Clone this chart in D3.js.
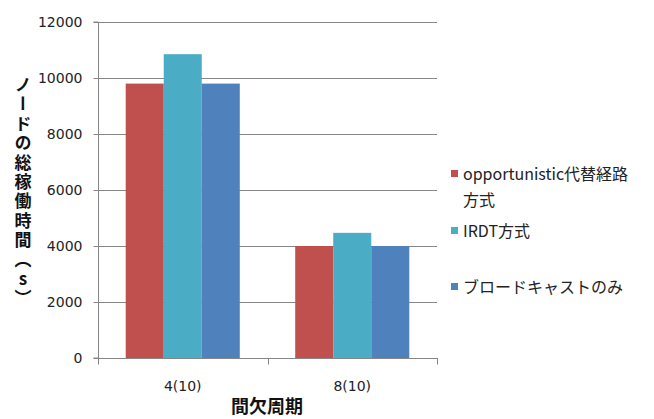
<!DOCTYPE html>
<html>
<head>
<meta charset="utf-8">
<script src="https://cdn.jsdelivr.net/npm/d3@7"></script>
<style>
  html, body { margin: 0; padding: 0; background: #fff; }
  svg { display: block; }
  text { font-family: "Noto Sans CJK JP", sans-serif; }
</style>
</head>
<body>
<svg id="chart" width="654" height="419"></svg>
<script>
// Categories (間欠周期) and series values, in seconds
const categories = ["4(10)", "8(10)"];
const seriesNames = ["opportunistic代替経路方式", "IRDT方式", "ブロードキャストのみ"];
const opportunistic = [9800, 4000];
const irdt = [10850, 4470];
const broadcastOnly = [9800, 4000];
const yTicks = [0, 2000, 4000, 6000, 8000, 10000, 12000];
const seriesColors = ["#C0504D", "#4BACC6", "#4F81BD"];

const seriesValues = [opportunistic, irdt, broadcastOnly];
const rows = categories.map((c, i) => ({
  category: c,
  values: seriesValues.map((vals, s) => ({ series: s, value: vals[i] }))
}));

const svg = d3.select("#chart");
const plotLeft = 98, plotRight = 437, plotTop = 22, plotBottom = 358;
const axisColor = "#868686";
const labelFont = "'DejaVu Sans', sans-serif";

const x = d3.scaleBand().domain(categories).range([plotLeft, plotRight])
  .paddingInner(0.327).paddingOuter(0.1635);
const xInner = d3.scaleBand().domain(d3.range(seriesNames.length)).range([0, x.bandwidth()]);
const y = d3.scaleLinear().domain([0, 12000]).range([plotBottom, plotTop]);

// Horizontal gridlines
svg.append("g").selectAll("line").data(yTicks.filter(t => t > 0)).join("line")
  .attr("x1", plotLeft).attr("x2", plotRight)
  .attr("y1", d => Math.round(y(d)) + 0.5).attr("y2", d => Math.round(y(d)) + 0.5)
  .attr("stroke", axisColor).attr("stroke-width", 1);

// Bars
svg.append("g").selectAll("g").data(rows).join("g")
  .attr("transform", d => `translate(${x(d.category)},0)`)
  .selectAll("rect").data(d => d.values).join("rect")
  .attr("x", d => xInner(d.series))
  .attr("width", xInner.bandwidth())
  .attr("y", d => y(d.value))
  .attr("height", d => y(0) - y(d.value))
  .attr("fill", d => seriesColors[d.series]);

// Y axis
const yAxis = svg.append("g").attr("transform", `translate(${plotLeft + 0.5},0)`)
  .call(d3.axisLeft(y).tickValues(yTicks).tickSize(5).tickPadding(11).tickFormat(d3.format("d")));
yAxis.select(".domain").attr("stroke", axisColor).attr("d", `M-5,${plotTop}H0V${plotBottom}H-5`);
yAxis.selectAll(".tick line").attr("stroke", axisColor);
yAxis.selectAll(".tick text").attr("fill", "#222").style("font-size", "14px")
  .style("font-family", labelFont);

// X axis with boundary ticks between categories
const xAxisG = svg.append("g").attr("transform", `translate(0,${plotBottom + 0.5})`);
xAxisG.append("line").attr("x1", plotLeft).attr("x2", plotRight + 1)
  .attr("stroke", axisColor);
const boundaries = [plotLeft, (x(categories[0]) + x.bandwidth() + x(categories[1])) / 2, plotRight];
xAxisG.selectAll("line.b").data(boundaries).join("line").attr("class", "b")
  .attr("x1", d => Math.round(d) + 0.5).attr("x2", d => Math.round(d) + 0.5)
  .attr("y1", 0).attr("y2", 6).attr("stroke", axisColor);
xAxisG.selectAll("text").data(categories).join("text")
  .attr("x", d => x(d) + x.bandwidth() / 2)
  .attr("y", 32)
  .attr("text-anchor", "middle")
  .attr("fill", "#222")
  .style("font-size", "14px")
  .style("font-family", labelFont)
  .text(d => d);

// Axis titles
svg.append("text")
  .attr("x", 267).attr("y", 413)
  .attr("text-anchor", "middle")
  .style("font-size", "18px").style("font-weight", "bold")
  .attr("fill", "#111")
  .text("間欠周期");

svg.append("text")
  .attr("x", 23).attr("y", 76)
  .style("writing-mode", "vertical-rl")
  .style("text-orientation", "upright")
  .style("font-size", "17px").style("font-weight", "bold")
  .style("letter-spacing", "2.4px")
  .attr("fill", "#111")
  .text("ノードの総稼働時間（s）");

// Legend
const legendRows = [
  { lines: ["opportunistic代替経路", "方式"], y: 174 },
  { lines: ["IRDT方式"], y: 231 },
  { lines: ["ブロードキャストのみ"], y: 287 }
];
const legend = svg.append("g");
legendRows.forEach((r, i) => {
  legend.append("rect")
    .attr("x", 451).attr("y", r.y - 4).attr("width", 7).attr("height", 7)
    .attr("fill", seriesColors[i]);
  const t = legend.append("text")
    .attr("x", 463).attr("y", r.y + 6)
    .attr("fill", "#222").style("font-size", "16px");
  r.lines.forEach((ln, k) => {
    t.append("tspan").attr("x", 463).attr("dy", k === 0 ? 0 : 26).text(ln);
  });
});
</script>
</body>
</html>
